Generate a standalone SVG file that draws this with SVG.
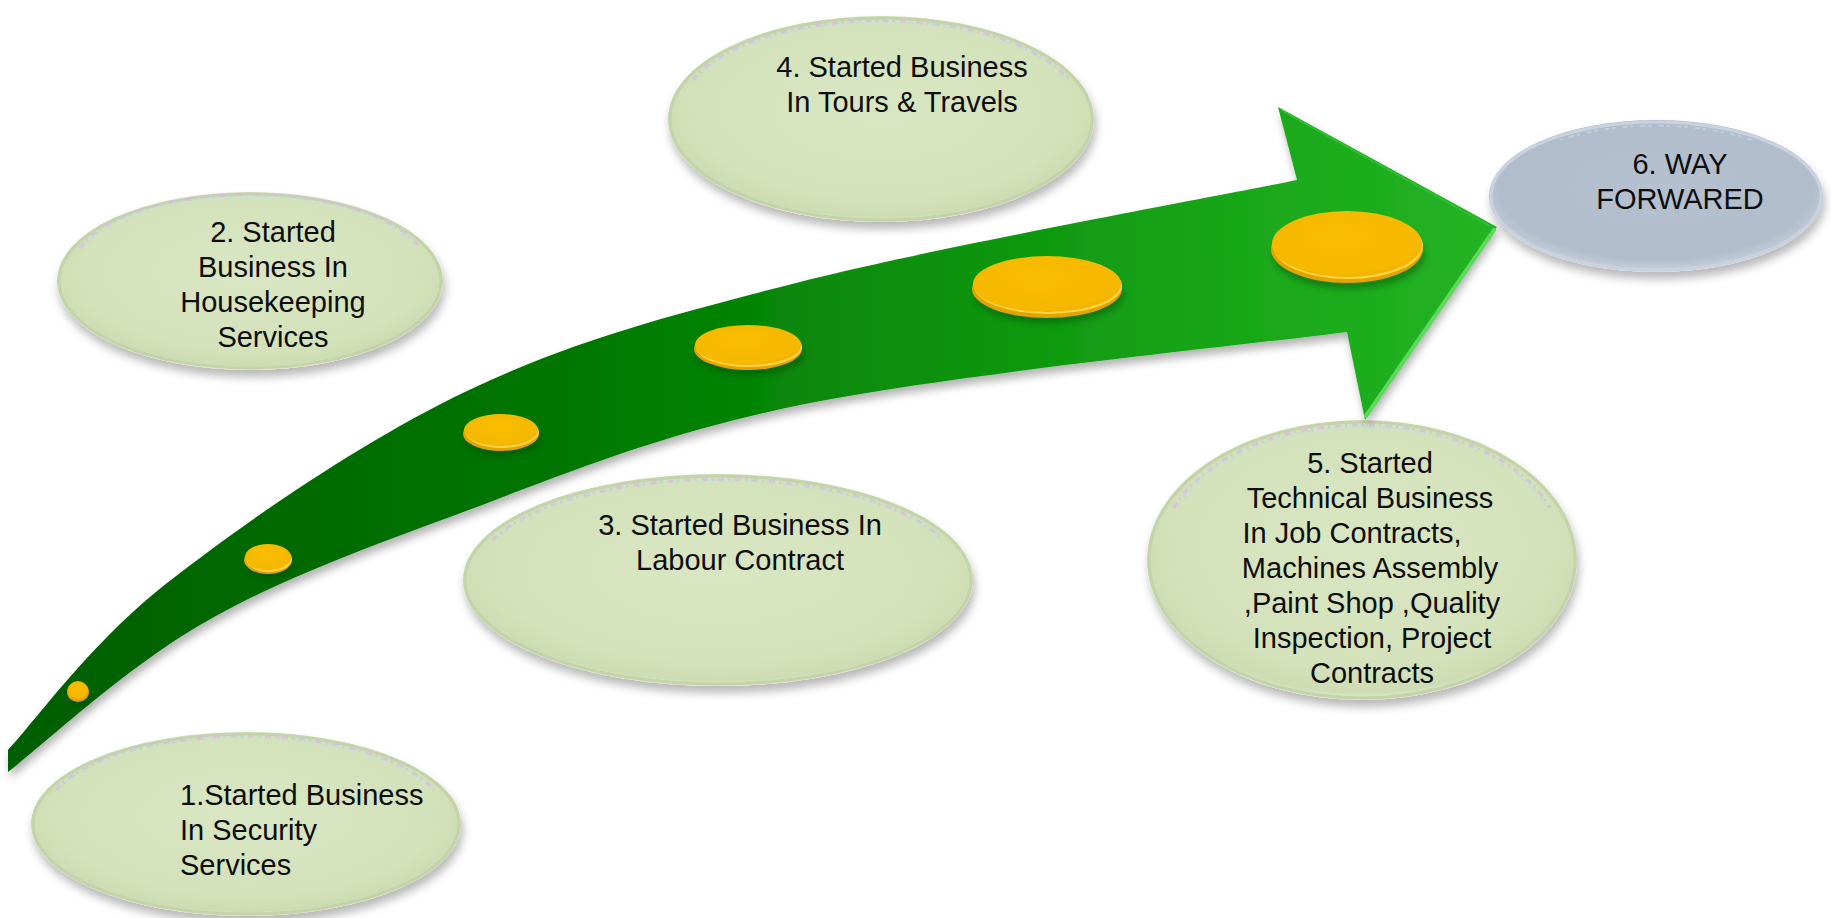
<svg xmlns="http://www.w3.org/2000/svg" width="1832" height="918" viewBox="0 0 1832 918">
<style>
.lbl{font-family:"Liberation Sans",Arial,sans-serif;font-size:29px;fill:#0d0d0d;}
.mid{text-anchor:middle;}
.gn{fill:url(#greenNode);filter:url(#nodeShadow);}
.bn{fill:url(#blueNode);filter:url(#nodeShadow);}
.rimg{fill:none;stroke:#c4d3aa;stroke-width:3;}
.rimb{fill:none;stroke:#c9d2de;stroke-width:3;}
.noise1{fill:none;stroke:#d9b9e3;stroke-width:3;stroke-dasharray:6 4 2 5;opacity:.75;}
.noise2{fill:none;stroke:#b9dde6;stroke-width:2;stroke-dasharray:3 7 5 3;opacity:.7;}
.dotrim{fill:#e3a400;}
.dothl{fill:#ffd54a;}
.dottop{fill:url(#gold);}
.dotsh{fill:#003300;opacity:.35;filter:url(#soft);}
</style>
<defs>
<radialGradient id="greenNode" cx="50%" cy="45%" r="55%">
<stop offset="0" stop-color="#d9e6c3"/>
<stop offset="0.8" stop-color="#d4e2bb"/>
<stop offset="0.95" stop-color="#cddcb2"/>
<stop offset="1" stop-color="#e3ebd4"/>
</radialGradient>
<radialGradient id="blueNode" cx="50%" cy="45%" r="55%">
<stop offset="0" stop-color="#b5c1cf"/>
<stop offset="0.85" stop-color="#b1bdcc"/>
<stop offset="0.96" stop-color="#c3ccd8"/>
<stop offset="1" stop-color="#d6dce5"/>
</radialGradient>
<radialGradient id="gold" cx="45%" cy="40%" r="60%">
<stop offset="0" stop-color="#f9bd00"/>
<stop offset="0.9" stop-color="#f6b800"/>
<stop offset="1" stop-color="#f3b300"/>
</radialGradient>
<linearGradient id="arrowGrad" gradientUnits="userSpaceOnUse" x1="0" y1="0" x2="1500" y2="0">
<stop offset="0" stop-color="#005e00"/>
<stop offset="0.35" stop-color="#007400"/>
<stop offset="0.6" stop-color="#0a8f0a"/>
<stop offset="0.85" stop-color="#1aa91a"/>
<stop offset="1" stop-color="#24b324"/>
</linearGradient>
<filter id="nodeShadow" x="-10%" y="-10%" width="120%" height="130%">
<feGaussianBlur in="SourceAlpha" stdDeviation="5"/>
<feOffset dx="2" dy="7" result="b"/>
<feFlood flood-color="#000" flood-opacity="0.28"/>
<feComposite in2="b" operator="in"/>
<feMerge><feMergeNode/><feMergeNode in="SourceGraphic"/></feMerge>
</filter>
<filter id="arrowShadow" x="-5%" y="-5%" width="110%" height="115%">
<feGaussianBlur in="SourceAlpha" stdDeviation="4"/>
<feOffset dx="2" dy="6" result="b"/>
<feFlood flood-color="#000" flood-opacity="0.3"/>
<feComposite in2="b" operator="in"/>
<feMerge><feMergeNode/><feMergeNode in="SourceGraphic"/></feMerge>
</filter>
<filter id="soft" x="-20%" y="-20%" width="140%" height="160%">
<feGaussianBlur stdDeviation="3"/>
</filter>
</defs>
<rect width="1832" height="918" fill="#fff"/>

<g id="node1">
<ellipse class="gn" cx="246" cy="824" rx="215" ry="92"/>
<ellipse class="rimg" cx="246" cy="824" rx="213" ry="90"/>
<path class="noise1" d="M 56,790 A 200 80 0 0 1 434,790"/>
<path class="noise2" d="M 60,788 A 198 79 0 0 1 430,788"/>
<text class="lbl" x="180" y="805">1.Started Business</text>
<text class="lbl" x="180" y="840">In Security</text>
<text class="lbl" x="180" y="875">Services</text>
</g>

<g id="node2">
<ellipse class="gn" cx="250" cy="281" rx="193" ry="89"/>
<ellipse class="rimg" cx="250" cy="281" rx="191" ry="87"/>
<path class="noise1" d="M 80,248 A 178 76 0 0 1 420,248"/>
<path class="noise2" d="M 84,246 A 176 75 0 0 1 416,246"/>
<text class="lbl mid" x="273" y="242">2. Started</text>
<text class="lbl mid" x="273" y="277">Business In</text>
<text class="lbl mid" x="273" y="312">Housekeeping</text>
<text class="lbl mid" x="273" y="347">Services</text>
</g>

<g id="node3">
<ellipse class="gn" cx="718" cy="580" rx="255" ry="106"/>
<ellipse class="rimg" cx="718" cy="580" rx="253" ry="104"/>
<path class="noise1" d="M 493,540 A 240 93 0 0 1 943,540"/>
<path class="noise2" d="M 497,538 A 238 92 0 0 1 939,538"/>
<text class="lbl mid" x="740" y="535">3. Started Business In</text>
<text class="lbl mid" x="740" y="570">Labour Contract</text>
</g>

<g id="node4">
<ellipse class="gn" cx="881" cy="119" rx="213" ry="103"/>
<ellipse class="rimg" cx="881" cy="119" rx="211" ry="101"/>
<path class="noise1" d="M 693,80 A 200 90 0 0 1 1069,80"/>
<path class="noise2" d="M 697,78 A 198 89 0 0 1 1065,78"/>
<text class="lbl mid" x="902" y="77">4. Started Business</text>
<text class="lbl mid" x="902" y="112">In Tours &amp; Travels</text>
</g>

<g id="node5">
<ellipse class="gn" cx="1362" cy="560" rx="215" ry="140"/>
<ellipse class="rimg" cx="1362" cy="560" rx="213" ry="138"/>
<path class="noise1" d="M 1174,508 A 200 126 0 0 1 1550,508"/>
<path class="noise2" d="M 1178,506 A 198 125 0 0 1 1546,506"/>
<text class="lbl mid" x="1370" y="473">5. Started</text>
<text class="lbl mid" x="1370" y="508">Technical Business</text>
<text class="lbl mid" x="1352" y="543">In Job Contracts,</text>
<text class="lbl mid" x="1370" y="578">Machines Assembly</text>
<text class="lbl mid" x="1372" y="613">,Paint Shop ,Quality</text>
<text class="lbl mid" x="1372" y="648">Inspection, Project</text>
<text class="lbl mid" x="1372" y="683">Contracts</text>
</g>

<g id="node6">
<ellipse class="bn" cx="1656" cy="196" rx="167" ry="76"/>
<ellipse class="rimb" cx="1656" cy="196" rx="165" ry="74"/>
<path class="noise2" d="M 1560,140 A 150 62 0 0 1 1752,140"/>
<text class="lbl mid" x="1680" y="174">6. WAY</text>
<text class="lbl mid" x="1680" y="209">FORWARED</text>
</g>

<g id="connectors">
<path id="arrow" filter="url(#arrowShadow)" fill="url(#arrowGrad)" d="M 8,750 C 34.5,722.2 90.5,642.8 167,583 C 243.5,523.2 361.5,441.2 467,391 C 572.5,340.8 661.7,317.2 800,282 C 938.3,246.8 1214.2,197 1297,180 L 1278,107 L 1497,227 L 1365,420 L 1347,332 C 1255.8,344.2 949.5,374.2 800,405 C 650.5,435.8 550,480.3 450,517 C 350,553.7 273.7,582.5 200,625 C 126.3,667.5 40,747.5 8,772 Z"/>
<path d="M 1494,230 L 1366,416" fill="none" stroke="#5fd85f" stroke-width="4" stroke-linecap="round"/>
<path d="M 1281,110 L 1490,226" fill="none" stroke="#2fbf2f" stroke-width="2"/>
</g>

<g id="milestones">
<g id="dot1">
<ellipse class="dotsh" cx="80" cy="696" rx="11" ry="9"/>
<ellipse class="dotrim" cx="78" cy="692" rx="11" ry="10"/>
<ellipse class="dottop" cx="78" cy="690" rx="10" ry="9"/>
</g>
<g id="dot2">
<ellipse class="dotsh" cx="270" cy="564" rx="24" ry="14"/>
<ellipse class="dotrim" cx="268" cy="560" rx="24" ry="14"/>
<ellipse class="dothl" cx="269" cy="559" rx="23" ry="13"/>
<ellipse class="dottop" cx="268" cy="557" rx="23" ry="13"/>
</g>
<g id="dot3">
<ellipse class="dotsh" cx="503" cy="438" rx="38" ry="17"/>
<ellipse class="dotrim" cx="501" cy="434" rx="38" ry="17"/>
<ellipse class="dothl" cx="502" cy="432" rx="37" ry="16"/>
<ellipse class="dottop" cx="501" cy="430" rx="37" ry="16"/>
</g>
<g id="dot4">
<ellipse class="dotsh" cx="750" cy="354" rx="54" ry="21"/>
<ellipse class="dotrim" cx="748" cy="349" rx="54" ry="21"/>
<ellipse class="dothl" cx="749" cy="347" rx="53" ry="20"/>
<ellipse class="dottop" cx="748" cy="345" rx="53" ry="20"/>
</g>
<g id="dot5">
<ellipse class="dotsh" cx="1049" cy="294" rx="75" ry="29"/>
<ellipse class="dotrim" cx="1047" cy="289" rx="75" ry="29"/>
<ellipse class="dothl" cx="1048" cy="286" rx="74" ry="28"/>
<ellipse class="dottop" cx="1047" cy="284" rx="74" ry="28"/>
</g>
<g id="dot6">
<ellipse class="dotsh" cx="1349" cy="255" rx="76" ry="34"/>
<ellipse class="dotrim" cx="1347" cy="249" rx="76" ry="34"/>
<ellipse class="dothl" cx="1348" cy="246" rx="75" ry="33"/>
<ellipse class="dottop" cx="1347" cy="244" rx="75" ry="33"/>
</g>
</g>
</svg>
